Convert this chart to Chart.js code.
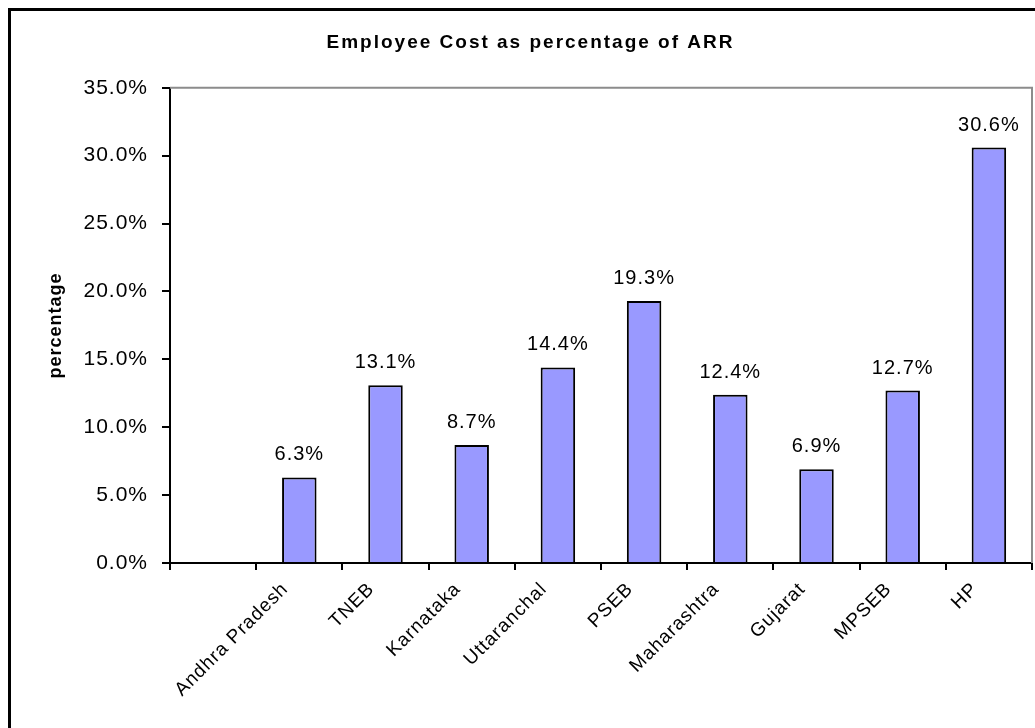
<!DOCTYPE html>
<html>
<head>
<meta charset="utf-8">
<title>Employee Cost as percentage of ARR</title>
<script src="https://cdn.jsdelivr.net/npm/chart.js@4/dist/chart.umd.min.js"></script>
<style>
  html, body { margin: 0; padding: 0; background: #fff; overflow: hidden; }
  #frame {
    position: absolute; left: 8px; top: 8px; right: 0; bottom: 0;
    border-left: 3px solid #000; border-top: 3px solid #000;
  }
  canvas { display: block; }
</style>
</head>
<body>
<div id="frame"><canvas id="chart_cost" width="1024" height="717"></canvas></div>
<script>
// first category is left blank in the original sheet
const categories = ['', 'Andhra Pradesh', 'TNEB', 'Karnataka', 'Uttaranchal', 'PSEB',
    'Maharashtra', 'Gujarat', 'MPSEB', 'HP'];
const employee_cost = [null, 6.3, 13.1, 8.7, 14.4, 19.3, 12.4, 6.9, 12.7, 30.6];
const y_min = 0;
const y_max = 35;
const y_step = 5;

const FONT = '"Liberation Sans", Arial, sans-serif';

// the original text is rendered a bit wider than plain Arial,
// the title even more so
const spacing = {
    id: 'spacing',
    beforeDraw: (chart) => {
        const ctx = chart.ctx;
        ctx.letterSpacing = '1px';
        const title = chart.titleBlock;
        if (title && !title._spaced) {
            const draw = title.draw.bind(title);
            title.draw = () => {
                const old = ctx.letterSpacing;
                ctx.letterSpacing = '2px';
                draw();
                ctx.letterSpacing = old;
            };
            title._spaced = true;
        }
    },
};

// grey frame on top and right of the plot area
const plot_frame = {
    id: 'plot_frame',
    beforeDatasetsDraw: (chart) => {
        const { ctx, chartArea: a } = chart;
        ctx.save();
        ctx.strokeStyle = '#8c8c8c';
        ctx.lineWidth = 2;
        ctx.beginPath();
        ctx.moveTo(a.left, a.top);
        ctx.lineTo(a.right, a.top);
        ctx.lineTo(a.right, a.bottom);
        ctx.stroke();
        ctx.restore();
    },
};

const value_labels = {
    id: 'value_labels',
    afterDatasetsDraw: (chart) => {
        const ctx = chart.ctx;
        const meta = chart.getDatasetMeta(0);
        ctx.save();
        ctx.font = '20px ' + FONT;
        ctx.fillStyle = '#000';
        ctx.textAlign = 'center';
        ctx.textBaseline = 'alphabetic';
        meta.data.forEach((bar, i) => {
            const v = employee_cost[i];
            if (v == null) return;
            ctx.fillText(v.toFixed(1) + '%', bar.x, bar.y - 17);
        });
        ctx.restore();
    },
};

const data = {
    labels: categories,
    datasets: [
        {
            label: 'Employee Cost',
            data: employee_cost,
            backgroundColor: '#9999ff',
            borderColor: '#000',
            borderWidth: 2,
            borderSkipped: 'bottom',
            barPercentage: 0.4,
            categoryPercentage: 1.0,
        },
    ],
};

const options = {
    responsive: false,
    animation: false,
    devicePixelRatio: 1,
    layout: {
        padding: { left: 18, right: 3, top: 0, bottom: 0 },
    },
    plugins: {
        legend: { display: false },
        tooltip: { enabled: false },
        title: {
            display: true,
            text: 'Employee Cost as percentage of ARR',
            color: '#000',
            font: { family: FONT, size: 19, weight: 'bold' },
            padding: { top: 20, bottom: 34 },
        },
    },
    scales: {
        x: {
            afterFit: (scale) => { scale.height = 165; },
            grid: {
                display: true,
                drawOnChartArea: false,
                drawTicks: true,
                tickLength: 7,
                color: '#000',
                lineWidth: 2,
                offset: true,
            },
            border: { display: true, color: '#000', width: 2 },
            ticks: {
                color: '#000',
                font: { family: FONT, size: 19 },
                minRotation: 45,
                maxRotation: 45,
                autoSkip: false,
                padding: 8,
                labelOffset: -14,
            },
        },
        y: {
            min: y_min,
            max: y_max,
            afterFit: (scale) => { scale.width = 141; },
            grid: {
                display: true,
                drawOnChartArea: false,
                drawTicks: true,
                tickLength: 8,
                color: '#000',
                lineWidth: 2,
            },
            border: { display: true, color: '#000', width: 2 },
            ticks: {
                stepSize: y_step,
                color: '#000',
                font: { family: FONT, size: 21 },
                padding: 14,
                callback: (v) => v.toFixed(1) + '%',
            },
            title: {
                display: true,
                text: 'percentage',
                color: '#000',
                font: { family: FONT, size: 18, weight: 'bold' },
                padding: { top: 16, bottom: 0 },
            },
        },
    },
};

const canvas = document.getElementById('chart_cost');
const chart = new Chart(canvas, {
    type: 'bar',
    data: data,
    options: options,
    plugins: [spacing, plot_frame, value_labels],
});
</script>
</body>
</html>
